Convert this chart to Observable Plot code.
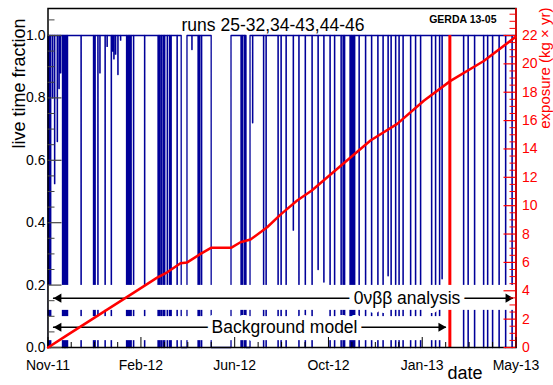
<!DOCTYPE html>
<html><head><meta charset="utf-8">
<script src="https://cdn.jsdelivr.net/npm/d3@7"></script>
<script src="https://cdn.jsdelivr.net/npm/@observablehq/plot@0.6"></script>
<style>body{margin:0;background:#fff} svg{display:block}</style>
</head><body><div id="chart"></div>
<script>
// ---- data ----
const runStart = "2011-11-09";
const runEnd = "2013-05-21";
const xTickDates = ["2011-11-09","2012-02-28","2012-06-19","2012-10-09","2013-01-29","2013-05-21"];
const xTickLabels = ["Nov-11","Feb-12","Jun-12","Oct-12","Jan-13","May-13"];
const yTicks = [0, 0.2, 0.4, 0.6, 0.8, 1.0];
const yTickLabels = ["0.0","0.2","0.4","0.6","0.8","1.0"];
const expTicks = [0,2,4,6,8,10,12,14,16,18,20,22];
const expAtFull = 22; // exposure value aligned with live fraction 1.0

// live-time drops (days since run start) and the minimum fraction reached
const dipDay = [1.2,3.0,5.4,7.8,11.0,13.1,14.9,17.3,18.8,20.2,21.6,23.1,39.4,54.3,56.1,59.5,61.9,68.1,70.5,75.5,77.0,78.6,80.6,83.4,86.6,93.8,95.6,97.3,99.1,102.1,115.3,131.4,133.2,135.2,137.4,139.2,142.4,145.1,146.9,154.1,171.8,179.2,181.0,183.3,230.5,232.3,234.7,244.3,257.4,260.4,274.7,278.3,284.3,292.9,299.6,307.2,315.3,322.5,329.4,336.8,342.2,350.0,352.4,354.1,360.7,362.5,364.3,366.1,371.5,379.2,386.4,393.9,400.1,406.1,409.7,415.1,419.2,424.0,433.0,438.9,444.9,458.1,462.8,467.6,470.6,496.3,501.7,509.4,520.2,525.0,530.9,538.7,546.5,554.2];
const dipMin = [0,0,0.80,0.525,0.66,0.83,0.88,0,0,0,0,0,0,0,0,0,0.88,0,0.965,0,0.95,0.925,0.94,0.875,0.985,0,0,0,0,0,0,0,0,0,0,0,0,0,0,0,0.955,0,0,0,0,0,0,0.72,0,0,0,0,0,0.376,0,0,0,0.25,0.21,0,0,0,0,0,0,0,0,0,0,0,0,0,0,0.23,0,0,0,0,0,0,0,0,0,0,0.22,0,0,0,0,0,0,0,0,0];
// periods without data (days since run start)
const gapStartDay = [159.1, 194.9, 236.5];
const gapEndDay   = [166.0, 218.6, 241.3];

// accumulated exposure (kg x yr) vs days since run start
const expDay = [0,22.9,62.7,102.5,130.4,142.4,158.3,166.3,182.2,194.7,218.6,229.9,241.9,261.8,277.7,297.6,315.1,361.3,385.2,417.1,448.9,480.8,520.5,558.4];
const expVal = [0,0.87,2.37,3.87,4.93,5.3,5.94,6.0,6.6,7.03,7.03,7.42,7.61,8.48,9.37,10.36,11.07,13.4,14.6,15.77,17.4,18.8,20.2,21.9];

const bkgEndDate = "2013-03-03";
const arrowLabels = ["0νββ analysis", "Background model"];
const arrowFrom = ["2011-11-15T12:00Z", "2011-11-15T12:00Z"];
const arrowTo = ["2013-05-18T00:00Z", "2013-02-26T20:00Z"];
const arrowLevel = [0.158, 0.065];
const arrowTextDate = ["2013-01-10T19:00Z", "2012-08-17T12:00Z"];
const boxTo = [runEnd, "2013-02-28T00:00Z"];
const boxLow = [0.119, 0.022];
const boxHigh = [0.199, 0.099];

// ---- build ----
const t0 = new Date(runStart);
const tEnd = new Date(runEnd);
const atDay = d => new Date(+t0 + d * 864e5);

const events = [];
dipDay.forEach((d, i) => events.push({s: d, e: d + 0.3, v: dipMin[i]}));
gapStartDay.forEach((d, i) => events.push({s: d, e: gapEndDay[i], v: 0}));
events.sort((a, b) => a.s - b.s);
const step = [{t: t0, v: 0}, {t: t0, v: 1}];
for (const ev of events) {
  step.push({t: atDay(ev.s), v: 1}, {t: atDay(ev.s), v: ev.v}, {t: atDay(ev.e), v: ev.v}, {t: atDay(ev.e), v: 1});
}
step.push({t: tEnd, v: 1}, {t: tEnd, v: 0});

const exposure = expDay.map((d, i) => ({t: atDay(d), e: expVal[i]}));
const arrows = arrowLabels.map((l, i) => ({label: l, from: new Date(arrowFrom[i]), to: new Date(arrowTo[i]), y: arrowLevel[i], at: new Date(arrowTextDate[i])}));
const boxes = boxTo.map((b, i) => ({x1: t0, x2: new Date(b), y1: boxLow[i], y2: boxHigh[i]}));

const xMajor = xTickDates.map(d => new Date(d));
const xMinor = [];
for (let i = 0; i < xMajor.length - 1; i++) for (let k = 1; k < 4; k++) xMinor.push(new Date(+xMajor[i] + (xMajor[i+1] - xMajor[i]) * k / 4));
const yMinor = d3.range(0, 1.0801, 0.05).filter(v => Math.abs(v / 0.2 - Math.round(v / 0.2)) > 1e-6);
const eMinor = d3.range(0, 23.76, 0.5).filter(v => v % 2 !== 0);
const labelOf = new Map(xMajor.map((d, i) => [+d, xTickLabels[i]]));
const yLabelOf = new Map(yTicks.map((v, i) => [v, yTickLabels[i]]));

const W = 553, H = 385, ML = 47.5, MR = 37.5, MT = 8, MB = 38;
const PW = W - ML - MR, PH = H - MT - MB;
const FONT = "'Liberation Sans', Arial, Helvetica, sans-serif";

const chart = Plot.plot({
  width: W, height: H,
  marginLeft: ML, marginRight: MR, marginTop: MT, marginBottom: MB,
  style: {fontFamily: FONT, background: "white", overflow: "visible"},
  x: {type: "utc", domain: [t0, tEnd]},
  y: {domain: [0, 1.0865]},
  marks: [
    Plot.line(step, {x: "t", y: "v", stroke: "#000099", strokeWidth: 1.3}),
    Plot.ruleX([new Date(bkgEndDate)], {y1: 0, y2: 1, stroke: "#ff0000", strokeWidth: 3}),
    Plot.rect(boxes, {x1: "x1", x2: "x2", y1: "y1", y2: "y2", fill: "white"}),
    Plot.ruleY(arrows, {x1: "from", x2: "to", y: "y", stroke: "black", strokeWidth: 1.5}),
    Plot.text(arrows, {x: "at", y: "y", text: "label", fontSize: 17.5, fill: "black", stroke: "white", strokeWidth: 10, paintOrder: "stroke", strokeLinejoin: "round"}),
    Plot.dot(arrows, {x: "from", y: "y", symbol: "triangle", r: 3.4, fill: "black", rotate: -90, dx: 5.3}),
    Plot.dot(arrows, {x: "to", y: "y", symbol: "triangle", r: 3.4, fill: "black", rotate: 90, dx: -5.3}),
    Plot.frame({stroke: "black", strokeWidth: 1.5}),
    Plot.ruleX([tEnd], {stroke: "#ff0000", strokeWidth: 1.5}),
    // ticks (inward)
    Plot.tickX(xMajor, {x: d => d, insetTop: PH - 10, stroke: "black"}),
    Plot.tickX(xMinor, {x: d => d, insetTop: PH - 5, stroke: "black"}),
    Plot.tickY(yTicks, {y: d => d, insetRight: PW - 14, stroke: "#444", strokeWidth: 1.2}),
    Plot.tickY(yMinor, {y: d => d, insetRight: PW - 7, stroke: "#444"}),
    Plot.tickY(expTicks, {y: d => d / expAtFull, insetLeft: PW - 12, stroke: "#ff0000", strokeWidth: 1.2}),
    Plot.tickY(eMinor, {y: d => d / expAtFull, insetLeft: PW - 6, stroke: "#ff0000"}),
    // axis labels
    Plot.axisX({ticks: xMajor, tickSize: 0, tickPadding: 13, tickFormat: d => labelOf.get(+d), fontSize: 14, label: null}),
    Plot.axisY({anchor: "left", ticks: yTicks, tickSize: 0, tickPadding: 2.5, tickFormat: d => yLabelOf.get(d), fontSize: 14, label: null}),
    Plot.axisY({anchor: "right", ticks: expTicks.map(v => v / expAtFull), tickSize: 0, tickPadding: 6, tickFormat: d => String(Math.round(d * expAtFull)), fontSize: 14, fill: "#ff0000", label: null}),
    // exposure curve
    Plot.line(exposure, {x: "t", y: d => d.e / expAtFull, stroke: "#ff0000", strokeWidth: 2.5}),
    // titles
    Plot.text(["runs 25-32,34-43,44-46"], {frameAnchor: "top", text: d => d, dx: -9, dy: 10, fontSize: 17.5, fill: "black"}),
    Plot.text(["GERDA 13-05"], {frameAnchor: "top-right", text: d => d, textAnchor: "end", dx: -19.5, dy: 7.5, fontSize: 10.5, fontWeight: "bold", fill: "black"}),
    Plot.text(["live time fraction"], {frameAnchor: "top-left", text: d => d, rotate: -90, textAnchor: "end", dx: -36, dy: 10, fontSize: 18, fill: "black"}),
    Plot.text(["exposure (kg × yr)"], {frameAnchor: "top-right", text: d => d, rotate: -90, textAnchor: "end", dx: 23, dy: -1, fontSize: 15, fill: "#ff0000"}),
    Plot.text(["date"], {frameAnchor: "bottom-right", text: d => d, textAnchor: "end", dx: -33.5, dy: 31, fontSize: 18, fill: "black"})
  ]
});
document.getElementById("chart").append(chart);
</script>
</body></html>
